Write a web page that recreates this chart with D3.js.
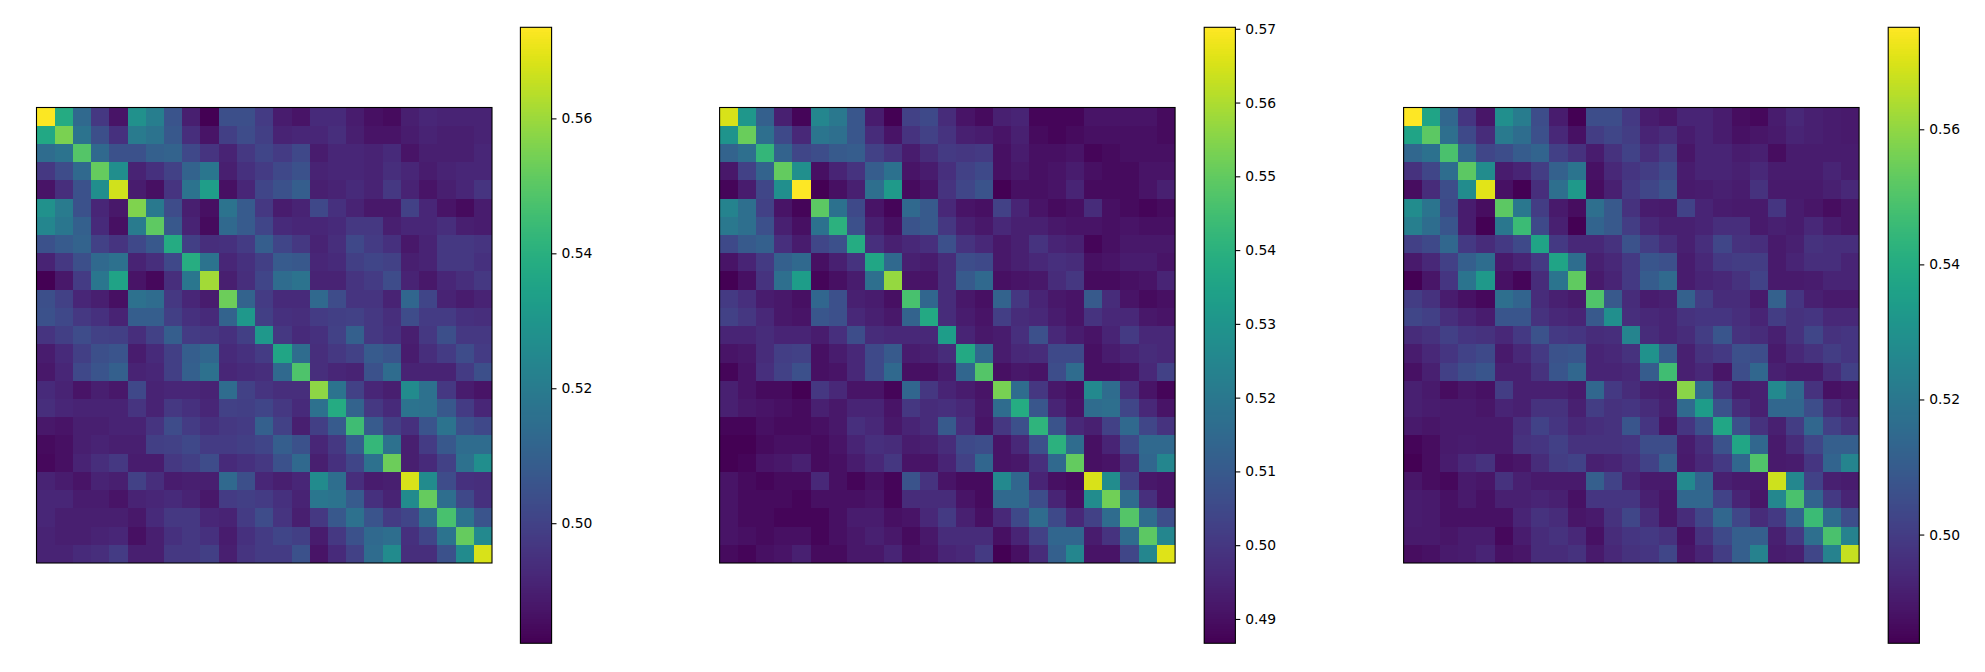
<!DOCTYPE html>
<html>
<head>
<meta charset="utf-8">
<script src="https://cdn.jsdelivr.net/npm/d3@7"></script>
<style>
  html, body { margin: 0; padding: 0; background: #fff; overflow: hidden; }
  .tick text { font-family: "DejaVu Sans", sans-serif; font-size: 13.89px; fill: #000; }
</style>
</head>
<body>
<div id="chart"></div>
<script>
// values, in thousandths
var matrixA = [
  [573,538,513,497,487,528,521,506,490,482,504,504,498,489,487,493,493,489,486,485,490,492,491,491,491],
  [537,555,517,504,495,520,517,507,494,487,499,503,499,491,492,492,494,490,487,487,489,491,490,490,491],
  [514,517,549,513,505,505,510,511,502,496,491,497,501,498,502,489,492,492,491,493,487,490,490,490,492],
  [497,503,513,552,527,491,495,500,511,518,490,495,498,502,505,491,492,492,491,494,492,489,491,492,492],
  [487,494,505,527,567,489,486,496,517,533,486,492,501,505,509,490,491,493,491,497,491,487,490,492,496],
  [528,520,505,492,488,556,519,503,490,486,517,508,497,489,491,502,495,491,488,488,500,492,487,485,489],
  [524,518,510,493,486,520,551,507,491,485,513,508,501,493,492,492,493,497,497,490,492,492,494,490,489],
  [505,508,511,500,496,502,507,538,499,494,495,498,509,501,497,491,494,502,498,495,488,491,497,497,496],
  [491,497,504,513,516,491,494,502,539,517,492,495,499,508,507,492,493,499,501,500,490,491,497,497,495],
  [482,488,498,518,535,487,484,494,518,561,490,494,501,514,517,491,491,496,498,503,491,488,492,494,497],
  [504,500,492,490,486,516,514,497,492,489,553,511,498,493,493,513,503,496,496,491,512,501,491,489,491],
  [505,502,497,495,491,509,509,499,495,493,511,531,499,495,494,498,499,500,497,494,503,498,498,495,494],
  [496,499,503,500,499,494,500,509,498,497,495,499,531,497,493,495,500,510,497,495,490,497,504,497,497],
  [489,493,499,504,506,489,493,499,509,512,493,495,498,536,514,494,497,500,508,506,489,494,498,503,498],
  [488,492,502,506,510,491,492,499,510,516,492,493,494,513,548,494,492,491,505,514,491,491,491,498,504],
  [493,491,487,490,488,502,491,492,492,491,514,500,496,494,494,558,517,500,492,490,526,516,497,489,487],
  [494,492,491,491,491,496,491,497,495,492,500,499,501,497,493,516,538,511,497,493,517,516,507,498,492],
  [488,487,490,490,491,491,496,503,498,495,497,498,510,500,490,499,508,545,508,499,495,506,517,505,502],
  [485,486,490,491,490,490,499,500,502,498,498,499,501,509,505,492,497,509,543,516,490,498,507,514,514],
  [484,486,491,494,497,489,489,497,499,503,493,495,497,505,513,490,495,501,516,553,490,493,500,516,527],
  [491,489,487,491,490,500,494,489,490,490,513,504,492,490,492,526,515,494,489,490,568,526,503,495,494],
  [492,492,489,489,487,491,492,493,491,488,498,499,498,495,491,518,517,508,495,491,526,552,515,502,495],
  [492,490,490,490,490,488,493,497,497,492,491,498,503,496,490,497,507,516,506,498,501,515,547,517,506],
  [491,490,490,491,492,486,490,495,497,495,489,495,498,501,499,489,497,505,513,515,495,501,517,552,525],
  [491,491,493,494,498,490,490,497,497,499,490,496,498,498,505,487,493,500,514,526,494,494,505,526,568]
];
var matrixB = [
  [565,531,512,494,488,525,520,509,493,487,503,505,497,491,489,494,495,488,488,488,491,491,491,491,489],
  [530,551,517,505,496,519,517,509,497,491,499,503,499,494,493,491,494,489,488,489,490,490,490,490,489],
  [513,517,542,513,504,506,510,511,503,499,493,497,501,500,501,490,493,490,490,491,488,489,490,490,490],
  [492,503,513,550,528,490,495,499,511,518,491,493,498,503,505,490,492,490,491,493,490,489,489,491,491],
  [488,493,504,528,570,487,490,494,517,532,489,491,499,504,508,487,490,490,491,495,489,489,489,491,494],
  [524,517,503,491,488,549,518,505,491,488,515,510,496,491,490,503,495,491,489,490,497,490,489,488,489],
  [520,517,507,494,490,518,540,507,494,490,508,510,500,494,492,496,494,494,492,491,491,490,491,490,490],
  [505,510,512,498,493,504,507,538,498,494,496,498,507,499,496,492,494,499,495,494,488,490,492,492,492],
  [491,495,501,512,515,490,494,499,536,515,494,493,497,506,505,492,494,496,498,497,490,491,493,493,491],
  [487,490,499,517,533,488,490,493,517,557,491,491,497,510,515,490,491,492,497,500,489,489,490,491,495],
  [501,498,493,492,490,514,507,494,493,490,546,514,497,492,490,513,500,495,492,491,510,497,491,489,490],
  [503,500,496,492,491,509,507,496,494,492,513,537,497,493,491,502,497,496,493,491,499,496,496,492,491],
  [495,495,497,495,495,493,498,506,497,496,496,496,533,495,492,493,498,507,496,493,491,495,501,496,496],
  [491,492,497,502,503,490,493,496,505,510,493,494,497,537,515,493,496,497,505,505,490,493,495,497,496],
  [488,491,498,503,507,490,491,496,505,515,490,490,493,514,548,490,492,491,506,516,490,490,491,496,503],
  [494,491,489,489,487,500,496,491,491,488,514,500,495,493,491,553,516,500,492,490,526,516,498,491,488],
  [494,492,491,490,489,494,492,495,495,491,500,497,498,496,492,516,538,509,495,491,516,517,504,496,491],
  [488,488,490,489,489,490,492,498,496,492,495,497,510,498,491,500,507,541,508,496,494,503,515,504,499],
  [487,487,489,490,490,489,491,495,498,497,493,494,497,505,506,491,496,507,540,516,490,495,505,515,515],
  [487,488,491,492,494,489,490,493,496,500,491,491,495,503,514,491,492,498,515,550,490,491,497,514,525],
  [491,489,488,489,489,496,490,488,490,488,508,499,491,489,489,526,514,495,490,489,565,527,503,492,491],
  [491,489,489,489,488,490,490,490,491,488,497,497,497,491,489,515,515,506,495,490,527,552,516,498,491],
  [491,489,489,488,488,488,490,493,493,490,491,496,501,494,490,496,505,516,505,496,503,516,548,516,506],
  [491,490,489,490,490,488,490,492,494,492,489,492,497,497,497,490,495,503,514,514,493,499,516,549,525],
  [489,488,490,491,494,489,489,492,492,495,490,491,495,496,501,487,490,497,512,525,491,491,504,525,566]
];
var matrixC = [
  [575,537,514,498,489,529,522,505,491,484,505,505,499,491,489,493,493,491,487,486,491,494,492,491,490],
  [537,552,517,504,495,521,516,506,494,488,500,503,500,493,495,491,493,491,488,489,490,493,492,491,490],
  [514,518,549,514,503,505,510,513,501,497,491,497,502,496,500,489,493,493,491,492,487,491,491,491,491],
  [497,503,516,552,528,491,493,500,512,519,488,494,498,500,504,491,493,493,492,494,491,491,491,493,491],
  [487,495,505,528,571,488,484,496,517,533,487,492,499,503,507,490,491,492,491,497,490,490,490,492,494],
  [528,519,504,491,487,552,520,500,490,487,517,509,497,491,490,502,493,491,490,490,498,491,489,487,489],
  [523,516,508,491,484,520,546,504,492,484,513,509,500,494,492,492,493,496,496,490,492,491,494,491,489],
  [501,504,514,499,495,499,504,537,499,494,494,497,507,500,496,492,496,503,497,496,490,492,497,496,496],
  [490,494,501,511,516,490,493,499,537,516,492,494,499,508,506,491,494,499,500,500,490,493,496,496,493],
  [484,489,498,519,533,488,485,495,519,553,490,493,499,510,515,491,493,494,497,502,490,490,491,493,493],
  [500,497,491,488,486,517,513,495,492,490,550,509,495,491,492,512,500,495,495,490,512,498,492,490,490],
  [503,501,496,493,491,508,508,497,494,493,509,529,496,494,493,497,498,498,496,493,500,497,498,494,494],
  [495,497,501,498,497,494,499,507,499,498,495,496,525,495,493,495,500,508,497,495,492,497,503,497,498],
  [491,494,498,502,504,490,494,499,507,508,493,494,497,530,510,492,497,499,506,505,490,494,497,500,498],
  [488,492,501,505,508,492,492,497,508,514,493,493,494,510,547,492,494,489,505,514,492,490,490,495,501],
  [492,490,487,489,488,500,492,492,492,490,514,499,495,492,491,559,515,498,491,492,527,515,497,488,489],
  [492,491,490,490,489,493,492,497,497,492,500,497,498,495,492,515,534,507,495,492,514,514,505,495,492],
  [490,489,490,490,490,490,496,502,498,494,496,497,508,498,489,498,506,538,506,497,492,500,514,501,497],
  [485,487,490,491,490,490,497,498,501,497,497,497,498,505,505,491,496,507,538,514,490,495,503,511,511],
  [484,487,491,494,497,488,489,495,500,502,492,493,496,502,511,490,494,499,514,550,490,491,498,513,525],
  [489,487,486,490,489,497,492,490,490,490,511,502,493,490,490,527,513,492,490,490,568,526,502,492,491],
  [491,490,488,490,488,492,492,493,492,488,498,498,498,492,489,514,514,502,493,489,526,549,513,499,493],
  [491,490,488,488,488,488,493,497,495,489,490,497,503,495,489,495,503,514,503,495,499,513,546,516,505],
  [490,490,489,491,491,486,491,495,497,494,488,495,498,499,497,488,497,504,511,511,492,499,517,549,524],
  [487,488,490,491,493,488,489,495,495,497,490,494,497,498,503,489,493,500,511,524,491,492,503,524,567]
];

var rangeA = [0.4822, 0.5735];
var rangeB = [0.4867, 0.5702];
var rangeC = [0.4839, 0.5751];

var ticksA = [0.50, 0.52, 0.54, 0.56];
var ticksB = [0.49, 0.50, 0.51, 0.52, 0.53, 0.54, 0.55, 0.56, 0.57];
var ticksC = [0.50, 0.52, 0.54, 0.56];

var w = 1985, h = 672;
var heatSize = 455.5, heatTop = 107.5;
var barTop = 27.3, barBottom = 643.3, barWidth = 31.2;
var panelX = [36.5, 719.6, 1403.6];
var barX = [520.4, 1204.2, 1888.2];

var Can = d3.select("#chart").append("svg")
  .attr("width", w)
  .attr("height", h)
  .style("display", "block");

function drawPanel(i, matrix, range, ticks) {
  var color = d3.scaleSequential(d3.interpolateViridis).domain(range);
  var n = matrix.length;

  var x = d3.scaleBand().domain(d3.range(n)).range([panelX[i], panelX[i] + heatSize]);
  var y = d3.scaleBand().domain(d3.range(n)).range([heatTop, heatTop + heatSize]);

  var heat = Can.append("g").attr("class", "heat");

  heat.selectAll("g")
    .data(matrix)
    .enter().append("g")
    .selectAll("rect")
    .data(function(row, r) {
      return row.map(function(v, c) {
        return { r: r, c: c, v: v / 1000 };
      });
    })
    .enter().append("rect")
    .attr("x", function(d) { return x(d.c); })
    .attr("y", function(d) { return y(d.r); })
    .attr("width", x.bandwidth())
    .attr("height", y.bandwidth())
    .attr("shape-rendering", "crispEdges")
    .attr("fill", function(d) { return color(d.v); });

  heat.append("rect")
    .attr("x", panelX[i])
    .attr("y", heatTop)
    .attr("width", heatSize)
    .attr("height", heatSize)
    .attr("fill", "none")
    .attr("stroke", "#000")
    .attr("stroke-width", 1.1);

  // colorbar
  var barScale = d3.scaleLinear().domain(range).range([barBottom, barTop]);
  var steps = d3.range(256).map(function(k) {
    return range[0] + (range[1] - range[0]) * k / 256;
  });
  var stepHeight = (barBottom - barTop) / 256;
  var bar = Can.append("g").attr("class", "bar");

  bar.selectAll("rect")
    .data(steps)
    .enter().append("rect")
    .attr("x", barX[i])
    .attr("y", function(d) { return barScale(d) - stepHeight; })
    .attr("width", barWidth)
    .attr("height", stepHeight)
    .attr("shape-rendering", "crispEdges")
    .attr("fill", function(d) { return color(d + (range[1] - range[0]) / 512); });

  bar.append("rect")
    .attr("x", barX[i])
    .attr("y", barTop)
    .attr("width", barWidth)
    .attr("height", barBottom - barTop)
    .attr("fill", "none")
    .attr("stroke", "#000")
    .attr("stroke-width", 1.1);

  var axis = d3.axisRight(barScale)
    .tickValues(ticks)
    .tickFormat(d3.format(".2f"))
    .tickSize(4.9)
    .tickPadding(4.9);

  var axisG = bar.append("g")
    .attr("transform", "translate(" + (barX[i] + barWidth) + ",0)")
    .call(axis);
  axisG.select(".domain").remove();
  axisG.selectAll(".tick line").attr("stroke", "#000").attr("stroke-width", 1.1);
}

drawPanel(0, matrixA, rangeA, ticksA);
drawPanel(1, matrixB, rangeB, ticksB);
drawPanel(2, matrixC, rangeC, ticksC);
</script>
</body>
</html>
